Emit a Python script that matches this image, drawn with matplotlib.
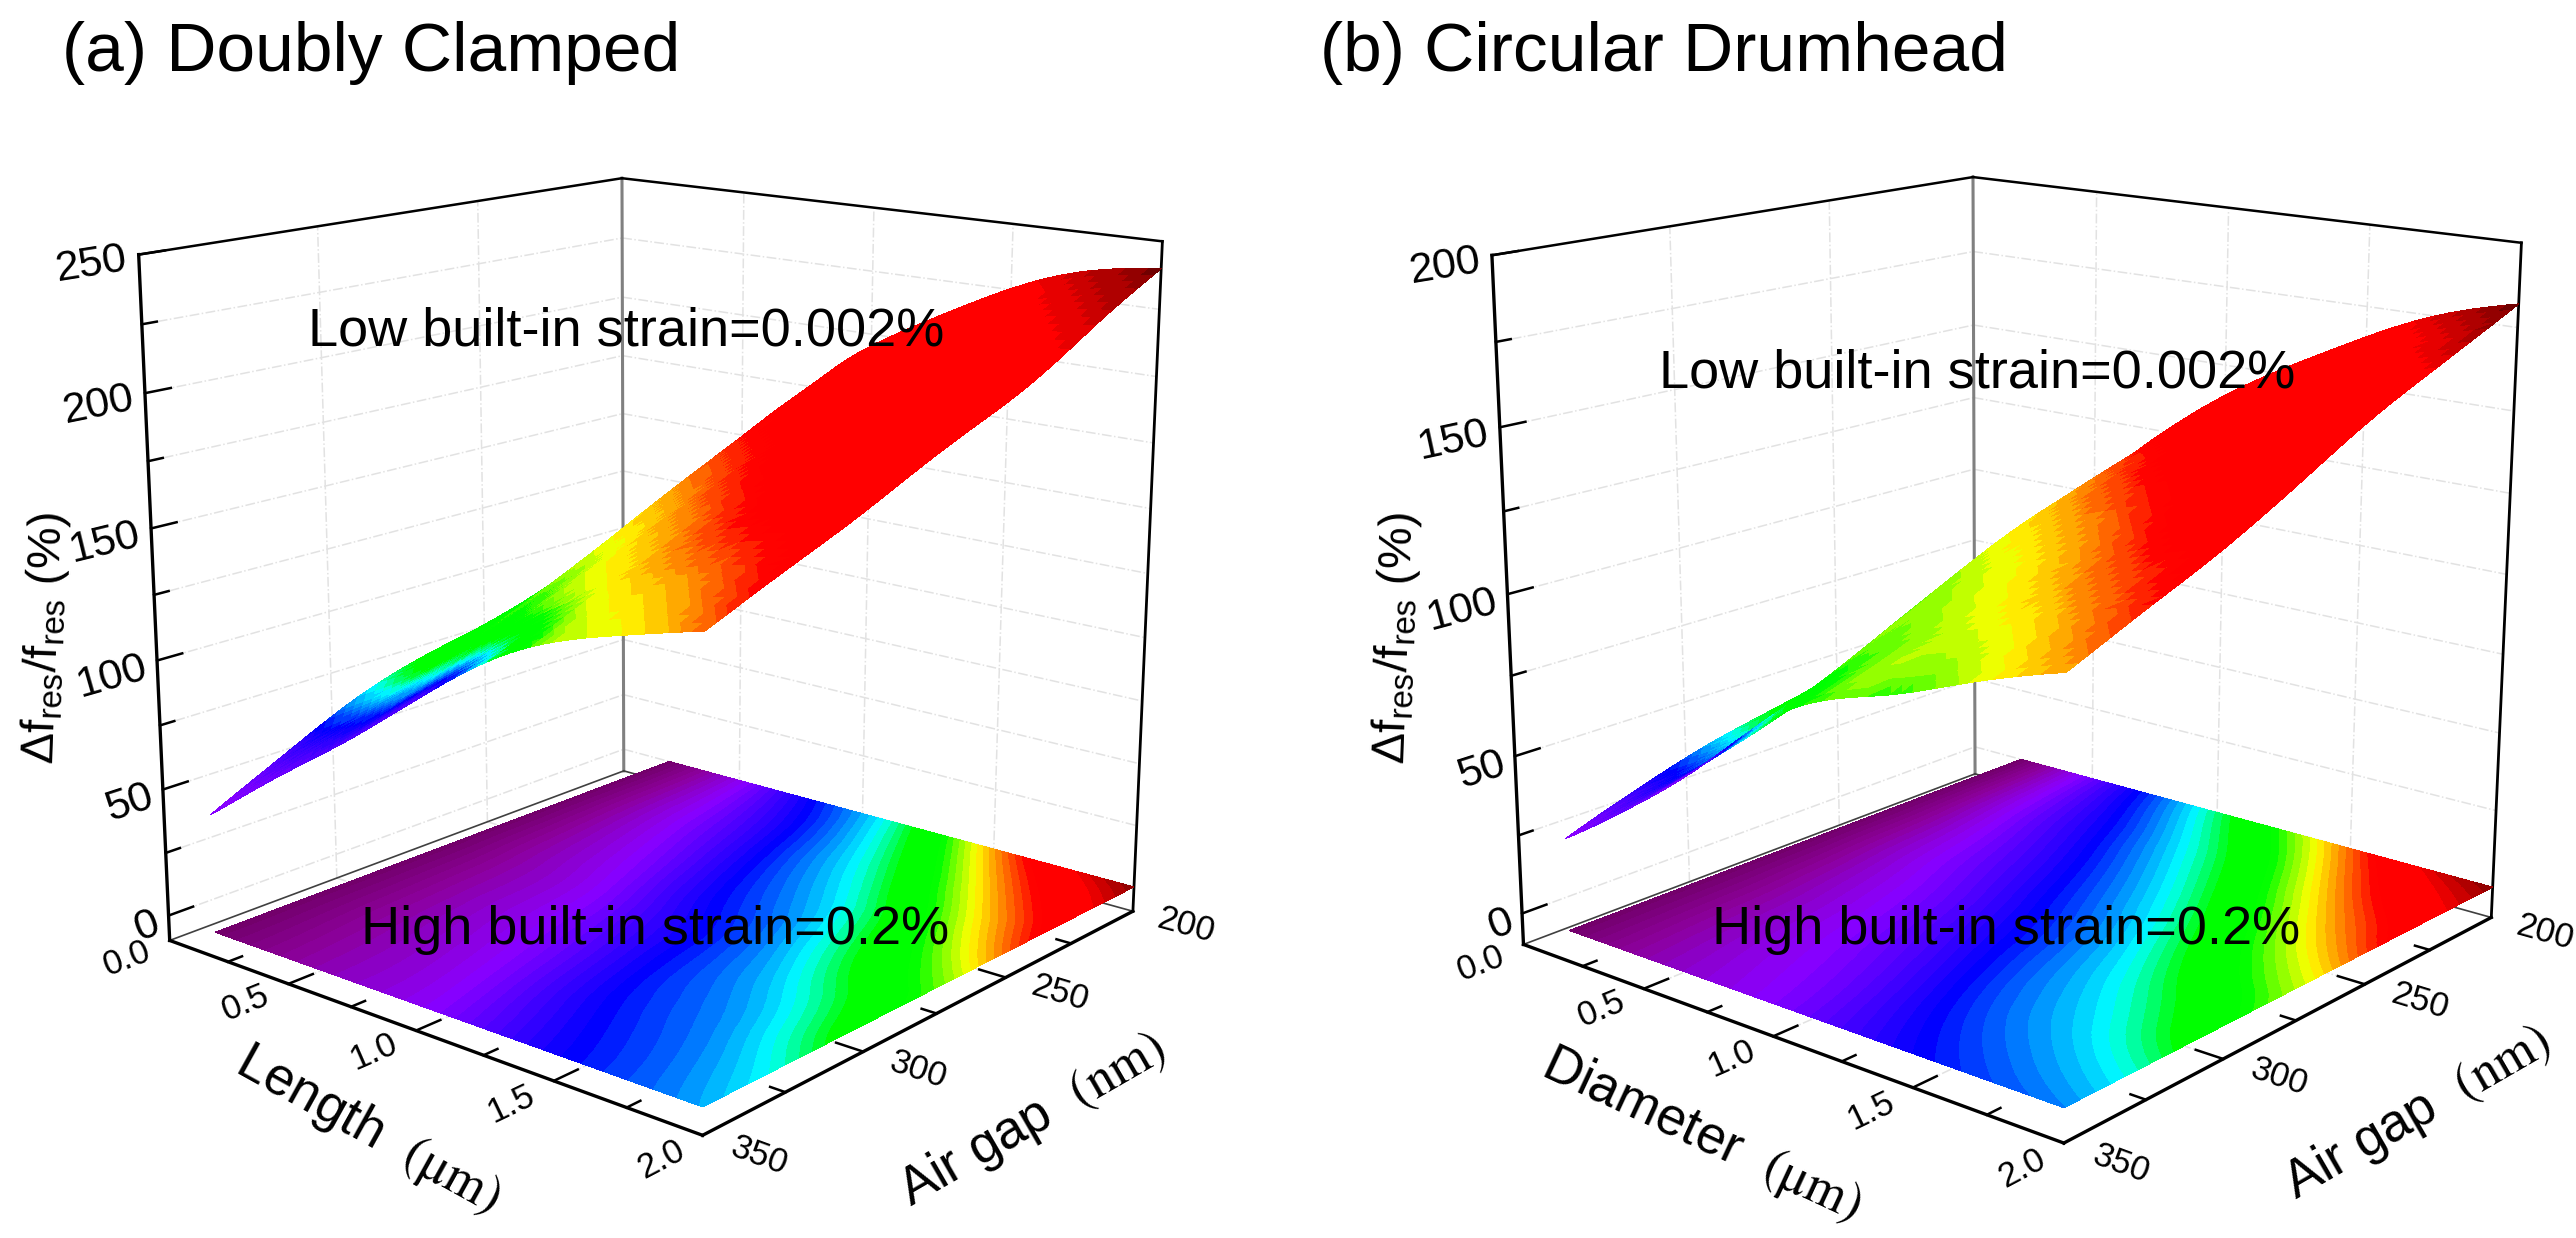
import numpy as np
import matplotlib
matplotlib.use("Agg")
import matplotlib.pyplot as plt
import matplotlib.tri as mtri
from matplotlib.colors import LinearSegmentedColormap, BoundaryNorm
from mpl_toolkits.mplot3d import proj3d

plt.rcParams['font.family'] = ['Liberation Sans', 'DejaVu Sans']
plt.rcParams['mathtext.fontset'] = 'stix'
plt.rcParams['mathtext.default'] = 'regular'

W, H = 2576, 1238

# axis grids of the tables below
lengths = [0.2, 0.5, 0.8, 1.1, 1.4, 1.7, 2.0]
gaps = [200, 225, 250, 275, 300, 325, 350]

# low strain surface height, one row per air gap
height_a = [[111, 142, 178, 202, 220, 234, 240],
            [102, 131, 165, 189, 207, 220, 225],
            [92, 120, 151, 175, 194, 206, 209],
            [84, 107, 136, 160, 180, 192, 197],
            [76, 95, 121, 146, 166, 178, 184],
            [62, 83, 107, 132, 152, 165, 172],
            [46, 70, 93, 118, 139, 151, 160]]
height_b = [[75, 103, 127, 146, 161, 174, 182],
            [64, 93, 118, 138, 152, 164, 172],
            [56, 84, 110, 130, 143, 154, 162],
            [50, 73, 100, 121, 132, 142, 150],
            [45, 62, 88, 110, 120, 130, 138],
            [38, 54, 77, 98, 109, 119, 128],
            [29, 47, 68, 89, 99, 109, 118]]

# low strain surface colour level
shade_a = [[75, 83, 87, 88, 90, 94, 100],
           [70, 76, 84, 87, 88, 90, 94],
           [63, 70, 77, 84, 87, 88, 90],
           [59, 63, 71, 77, 85, 87, 88],
           [49, 59, 64, 71, 78, 86, 87],
           [30, 40, 50, 62, 72, 78, 86],
           [20, 24, 27, 30, 62, 71, 79]]
shade_b = [[72, 79, 87, 88, 89, 93, 100],
           [68, 73, 79, 87, 88, 89, 94],
           [64, 69, 73, 80, 87, 88, 89],
           [59, 65, 69, 74, 81, 87, 88],
           [49, 59, 65, 69, 74, 82, 87],
           [32, 44, 60, 66, 70, 75, 83],
           [20, 24, 27, 60, 65, 70, 76]]

# high strain map on the floor, colour level
floor_a = [[2, 19, 35, 49, 69, 88, 98],
           [2, 17, 29, 42, 56, 74, 89],
           [2, 15, 25, 37, 47, 62, 79],
           [2, 13, 21, 32, 41, 54, 66],
           [2, 12, 19, 28, 38, 46, 59],
           [2, 11, 17, 25, 35, 41, 50],
           [2, 10, 16, 22, 31, 38, 44]]
floor_b = [[2, 24, 41, 57, 73, 90, 98],
           [2, 21, 34, 47, 61, 78, 90],
           [2, 18, 29, 40, 52, 67, 81],
           [2, 16, 25, 35, 45, 58, 69],
           [2, 14, 22, 31, 41, 50, 61],
           [2, 13, 20, 27, 37, 44, 51],
           [2, 12, 18, 24, 32, 38, 42]]

z_ticks_a = [0, 50, 100, 150, 200, 250]
z_ticks_b = [0, 50, 100, 150, 200]
length_ticks = [0.0, 0.5, 1.0, 1.5, 2.0]
gap_ticks = [200, 250, 300, 350]

# rainbow with a wide green and a wide red, like the Origin plot
cmap = LinearSegmentedColormap.from_list("origin", [
    (0.00, '#6e0062'), (0.10, '#8c009c'), (0.20, '#8a00ff'), (0.35, '#0000ff'),
    (0.48, '#00ffff'), (0.55, '#00ff00'), (0.63, '#00ff00'), (0.72, '#ffff00'),
    (0.78, '#ff8000'), (0.84, '#ff0000'), (0.92, '#ff0000'), (1.00, '#700000')], N=256)
levels = np.linspace(0, 100, 65)
norm = BoundaryNorm(levels, 256)


def px_text(x, y, s, **kw):
    # text placed by pixel position in the reference
    return fig.text(x / W, 1 - y / H, s, ha=kw.pop('ha', 'center'), va=kw.pop('va', 'center'), **kw)


def label_3d(ax, point, direction, s, **kw):
    # figure text at a projected data point, turned along a projected data direction
    M = ax.get_proj()
    p0 = np.array(point, float)
    p1 = p0 + np.array(direction, float)
    xs, ys, _ = proj3d.proj_transform(np.array([p0[0], p1[0]]), np.array([p0[1], p1[1]]),
                                      np.array([p0[2], p1[2]]), M)
    d = ax.transData.transform(np.column_stack([xs, ys]))
    angle = np.degrees(np.arctan2(d[1, 1] - d[0, 1], d[1, 0] - d[0, 0]))
    return fig.text(d[0, 0] / W, d[0, 1] / H, s, rotation=angle, rotation_mode='anchor', **kw)


def draw_panel(view, z_top, z_ticks, height, shade, floor):
    elev, azim, focal, a, b, cx, cy, size = view
    ax = fig.add_subplot(projection='3d', computed_zorder=False)
    ax.set_position([(cx - size / 2) / W, (cy - size / 2) / H, size / W, size / H])
    ax.set_xlim(0, 2)
    ax.set_ylim(350, 200)
    ax.set_zlim(-10, z_top)
    ax.set_box_aspect((a, b, 1))
    ax.view_init(elev=elev, azim=azim)
    ax.set_proj_type('persp', focal_length=focal)
    ax.set_axis_off()
    ax.apply_aspect()

    # grid on the two back walls and the floor
    grid = dict(color='#e2e2e2', lw=1.1, ls='-.', zorder=1)
    minor_z = np.arange(0, z_top + 1, 25)
    for z in minor_z:
        ax.plot([0, 0], [350, 200], [z, z], **grid)
        ax.plot([0, 2], [200, 200], [z, z], **grid)
    for gap in gap_ticks[1:-1]:
        ax.plot([0, 0], [gap, gap], [-10, z_top], **grid)
        ax.plot([0, 2], [gap, gap], [-10, -10], **grid)
    for x in length_ticks[1:-1]:
        ax.plot([x, x], [200, 200], [-10, z_top], **grid)
        ax.plot([x, x], [350, 200], [-10, -10], **grid)

    # box
    ax.plot([0, 0], [200, 200], [-10, z_top], color='#808080', lw=2.2, zorder=1.5)
    ax.plot([0, 0], [350, 200], [-10, -10], color='#404040', lw=1.2, zorder=1.5)
    ax.plot([0, 2], [200, 200], [-10, -10], color='#404040', lw=1.2, zorder=1.5)
    edge = dict(color='black', lw=2.4, zorder=4)
    ax.plot([0, 2], [350, 350], [-10, -10], **edge)
    ax.plot([2, 2], [350, 200], [-10, -10], **edge)
    ax.plot([0, 0], [350, 350], [-10, z_top], **edge)
    ax.plot([2, 2], [200, 200], [-10, z_top], color='black', lw=2, zorder=1.5)
    ax.plot([0, 0], [350, 200], [z_top, z_top], color='black', lw=1.8, zorder=1.5)
    ax.plot([0, 2], [200, 200], [z_top, z_top], color='black', lw=1.8, zorder=1.5)

    # ticks, long on the labelled ones
    tick = dict(color='black', lw=1.8, zorder=4)
    for x in np.arange(0.25, 2, 0.25):
        d = 7 if x in length_ticks else 4
        ax.plot([x, x], [350, 350 - d], [-10, -10], **tick)
    for gap in np.arange(225, 350, 25):
        d = 0.09 if gap in gap_ticks else 0.05
        ax.plot([2, 2 - d], [gap, gap], [-10, -10], **tick)
    for z in minor_z:
        d = 7 if z in z_ticks else 4
        ax.plot([0, 0], [350, 350 - d], [z, z], **tick)

    # tick labels sit just outside the box
    for x in length_ticks:
        label_3d(ax, (x, 362, -11), (0, -1, 0), f'{x:.1f}', fontsize=25, ha='center', va='center')
    for gap in gap_ticks:
        label_3d(ax, (2.18, gap, -10), (1, 0, 0), f'{gap}', fontsize=25, ha='center', va='center')
    for z in z_ticks:
        label_3d(ax, (0, 353, z - 1), (0, -1, 0), f'{z}', fontsize=31, ha='right', va='center')

    # both colour fields and the height go through the same cubic refiner
    sx, sy = np.meshgrid(lengths, gaps)
    tri = mtri.Triangulation(sx.ravel(), sy.ravel())
    refiner = mtri.UniformTriRefiner(tri)

    # high strain map on the z=0 floor
    fine, fine_f = refiner.refine_field(np.array(floor, float).ravel(), subdiv=3)
    ax.tricontourf(fine, np.clip(fine_f, 0, 100), levels=levels, cmap=cmap, norm=norm,
                   zdir='z', offset=0, zorder=2)

    # low strain surface, the colour level is kept apart from the height
    fine, fine_z = refiner.refine_field(np.array(height, float).ravel(), subdiv=3)
    _, fine_c = refiner.refine_field(np.array(shade, float).ravel(), subdiv=3)
    surf = ax.plot_trisurf(fine, fine_z, cmap=cmap, norm=norm, linewidth=0, antialiased=False, zorder=3)
    surf.set_array(np.clip(fine_c, 0, 100)[fine.get_masked_triangles()].mean(axis=1))
    return ax


fig = plt.figure(figsize=(W / 100, H / 100), dpi=100)

draw_panel((15.488, -49.628, 0.482, 1.001, 1.003, 641.258, 624.932, 1183.075), 250, z_ticks_a,
           height_a, shade_a, floor_a)
draw_panel((15.726, -49.700, 0.483, 1.007, 0.992, 1996.726, 621.518, 1189.561), 200, z_ticks_b,
           height_b, shade_b, floor_b)

px_text(62, 53, '(a) Doubly Clamped', fontsize=50, ha='left')
px_text(1320, 53, '(b) Circular Drumhead', fontsize=50, ha='left')

px_text(626, 331, 'Low built-in strain=0.002%', fontsize=39)
px_text(655, 930, 'High built-in strain=0.2%', fontsize=39)
px_text(1977, 374, 'Low built-in strain=0.002%', fontsize=39)
px_text(2006, 930, 'High built-in strain=0.2%', fontsize=39)

ylab = r'$\Delta f_{res}/f_{res}$ (%)'
px_text(45, 638, ylab, fontsize=34, rotation=88)
px_text(1396, 638, ylab, fontsize=34, rotation=88)

px_text(368, 1130, r'Length  $\mathrm{(\mu m)}$', fontsize=38, rotation=-29)
px_text(1033, 1120, r'Air gap  $\mathrm{(nm)}$', fontsize=38, rotation=30)
px_text(1702, 1135, r'Diameter  $\mathrm{(\mu m)}$', fontsize=38, rotation=-25)
px_text(2418, 1113, r'Air gap  $\mathrm{(nm)}$', fontsize=38, rotation=30)

fig.savefig('out.png', dpi=100)
